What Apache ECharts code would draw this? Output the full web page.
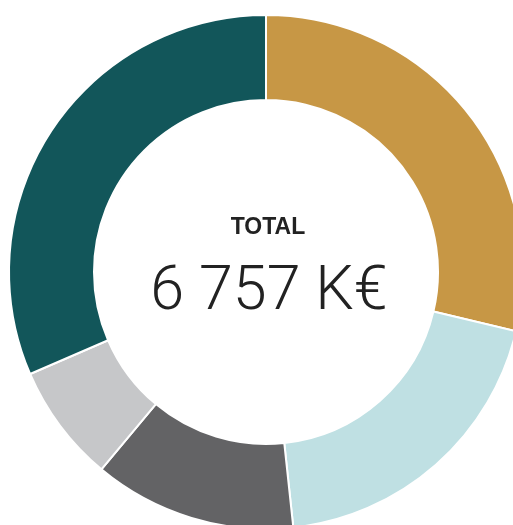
<!DOCTYPE html>
<html>
<head>
<meta charset="utf-8">
<script src="https://cdn.jsdelivr.net/npm/echarts@6/dist/echarts.min.js"></script>
<style>
  body { margin: 0; padding: 0; background: #fff; }
  #main { width: 513px; height: 525px; }
</style>
</head>
<body>
<div id="main"></div>
<script>
// répartition du total (K€), dans l'ordre horaire depuis midi
var names = ['A', 'B', 'C', 'D', 'E'];
var values = [1939, 1325, 862, 503, 2128];
var colors = ['#c79745', '#bfe0e3', '#636365', '#c6c7c9', '#12565a'];
var totalLabel = 'TOTAL';
var totalText = '6 757 K€';

var chart = echarts.init(document.getElementById('main'));

var data = values.map(function (v, i) {
  return { name: names[i], value: v, itemStyle: { color: colors[i] } };
});

chart.setOption({
  animation: false,
  series: [{
    type: 'pie',
    center: [266, 272],
    radius: [172, 257],
    startAngle: 90,
    clockwise: true,
    label: { show: false },
    labelLine: { show: false },
    emphasis: { disabled: true },
    itemStyle: { borderColor: '#fff', borderWidth: 2 },
    data: data
  }],
  graphic: [
    {
      type: 'text',
      x: 268, y: 228,
      style: {
        text: totalLabel,
        fill: '#222',
        font: 'bold 23px "Liberation Sans", Arial, sans-serif',
        textAlign: 'center',
        textVerticalAlign: 'middle'
      }
    },
    {
      type: 'text',
      x: 269, y: 294,
      style: {
        text: totalText,
        fill: '#222',
        font: '300 61px Roboto, "Liberation Sans", sans-serif',
        textAlign: 'center',
        textVerticalAlign: 'middle'
      }
    }
  ]
});
</script>
</body>
</html>
